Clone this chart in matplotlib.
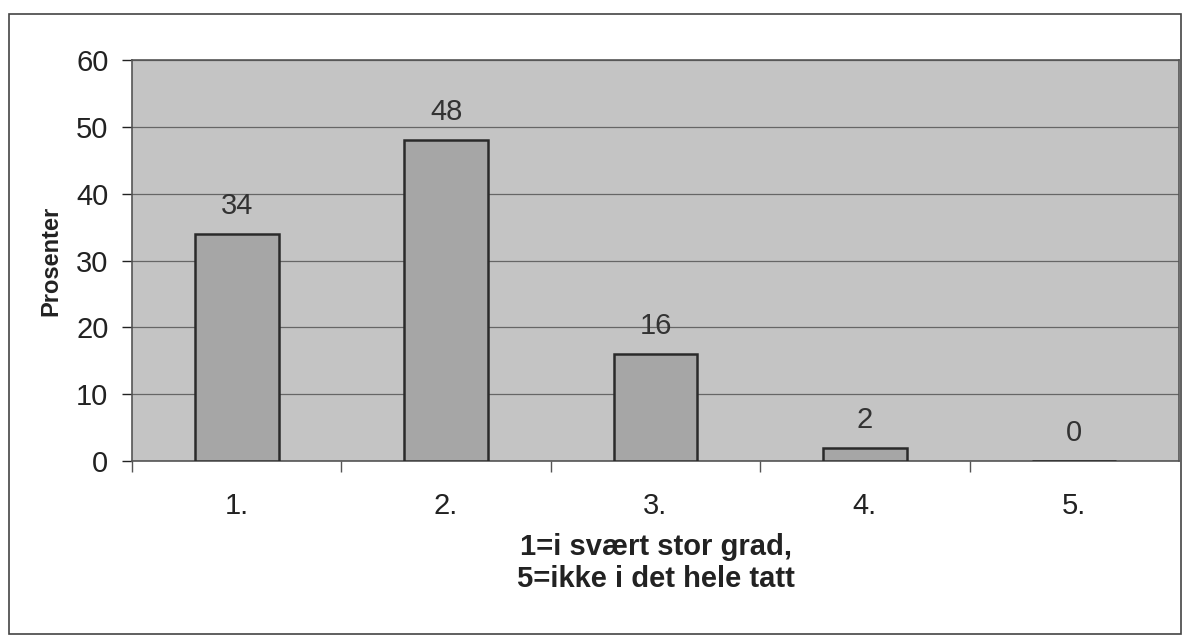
import matplotlib.pyplot as plt
from matplotlib.patches import Rectangle

categories = ['1.', '2.', '3.', '4.', '5.']
values = [34, 48, 16, 2, 0]

plt.rcParams['font.family'] = ['Liberation Sans', 'DejaVu Sans']

fig = plt.figure(figsize=(11.9, 6.36), dpi=100)
fig.patch.set_facecolor('white')

# outer chart frame
fig.add_artist(Rectangle((9 / 1190, 2 / 636), 1172 / 1190, 620 / 636,
                         transform=fig.transFigure, fill=False,
                         edgecolor='#444444', linewidth=1.2))

ax = fig.add_axes([132 / 1190, 175 / 636, 1047 / 1190, 401 / 636])
ax.set_facecolor('#c4c4c4')

x = range(len(categories))
ax.bar(x, values, width=0.4, color='#a6a6a6', edgecolor='#2a2a2a',
       linewidth=1.8, zorder=3)

for i, v in enumerate(values):
    ax.annotate(str(v), (i, v), xytext=(0, 10), textcoords='offset points',
                ha='center', va='bottom', fontsize=21, color='#333333')

ax.set_xlim(-0.5, 4.5)
ax.set_ylim(0, 60)
ax.set_yticks(range(0, 61, 10))
ax.tick_params(axis='y', labelsize=21, length=7, width=1, colors='#222222',
               pad=10)
ax.set_xticks([i + 0.5 for i in range(4)] + [-0.5])
ax.set_xticklabels([])
ax.set_xticks(list(x), minor=True)
ax.set_xticklabels(categories, minor=True)
ax.tick_params(axis='x', which='major', length=8, width=1, color='#555555',
               direction='out')
ax.tick_params(axis='x', which='minor', length=0, labelsize=21,
               labelcolor='#222222', pad=22)

ax.yaxis.grid(True, color='#666666', linewidth=0.9, zorder=1)
ax.set_axisbelow(True)
for s in ax.spines.values():
    s.set_color('#555555')
    s.set_linewidth(1.2)

ax.set_ylabel('Prosenter', fontsize=17, fontweight='bold', color='#222222',
              labelpad=10)
ax.set_xlabel('1=i svært stor grad,\n5=ikke i det hele tatt', fontsize=21,
              fontweight='bold', color='#222222', labelpad=10,
              linespacing=1.15)

fig.savefig('out.png', dpi=100)
